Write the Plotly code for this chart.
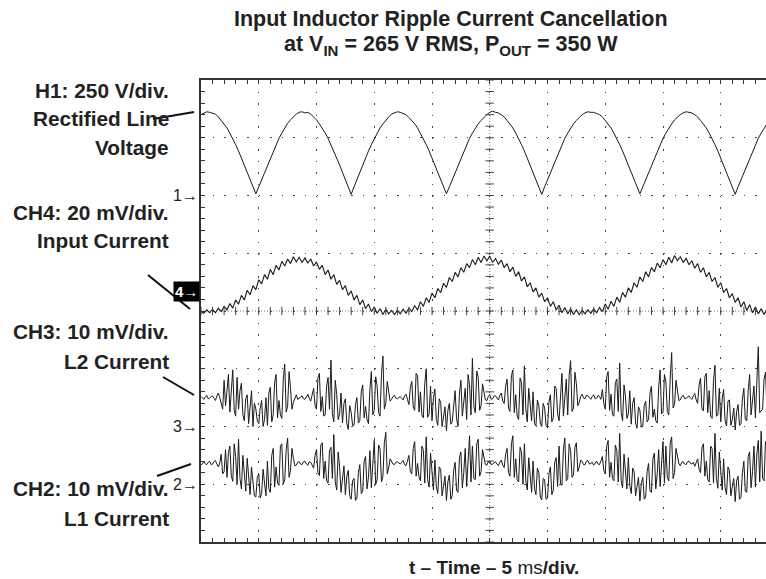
import plotly.graph_objects as go

# ---------------- data (in divisions) -------------
SAMPLE_MS = 0.25        # sample spacing of H1 / CH4 traces, ms (5 ms/div)
SAMPLE_MS_FINE = 0.125  # sample spacing of the ripple traces CH3 / CH2, ms

h1_rectified_line_voltage = [
    7.40, 7.43, 7.45, 7.44, 7.42, 7.41, 7.36, 7.30, 7.25, 7.17, 7.08, 6.99, 6.88, 6.77, 6.65, 6.53, 6.40, 6.27, 6.15, 6.03,
    6.15, 6.27, 6.40, 6.53, 6.65, 6.77, 6.88, 6.99, 7.08, 7.17, 7.25, 7.31, 7.37, 7.41, 7.44, 7.45,
    7.43, 7.44, 7.41, 7.36, 7.31, 7.24, 7.17, 7.08, 6.99, 6.88, 6.77, 6.65, 6.53, 6.40, 6.27, 6.15,
    6.02,
    6.15, 6.28, 6.40, 6.53, 6.65, 6.77, 6.88, 6.98, 7.08, 7.17, 7.24, 7.31, 7.36, 7.41, 7.43, 7.45,
    7.44, 7.42, 7.40, 7.35, 7.30, 7.24, 7.17, 7.08, 6.99, 6.88, 6.77, 6.65, 6.53, 6.40, 6.27, 6.15,
    6.03,
    6.15, 6.27, 6.40, 6.53, 6.65, 6.77, 6.88, 6.99, 7.08, 7.17, 7.24, 7.30, 7.36, 7.40, 7.44, 7.46,
    7.44, 7.43, 7.40, 7.36, 7.30, 7.24, 7.17, 7.08, 6.99, 6.88, 6.77, 6.65, 6.53, 6.40, 6.27, 6.15,
    6.02,
    6.15, 6.27, 6.40, 6.53, 6.65, 6.77, 6.88, 6.99, 7.08, 7.17, 7.24, 7.30, 7.36, 7.40, 7.43, 7.45, 7.44,
    7.44, 7.42, 7.40, 7.36, 7.30, 7.24, 7.17, 7.08, 6.99, 6.88, 6.77, 6.65, 6.53, 6.40, 6.27, 6.15,
    6.03,
    6.15, 6.27, 6.40, 6.53, 6.65, 6.77, 6.88, 6.99, 7.08, 7.17, 7.24, 7.31, 7.36, 7.40, 7.43, 7.45,
    7.44, 7.43, 7.40, 7.36, 7.30, 7.24, 7.17, 7.08, 6.99, 6.88, 6.77, 6.65, 6.53, 6.40, 6.27, 6.15,
    6.02,
    6.15, 6.27, 6.40, 6.53, 6.65, 6.77, 6.88, 6.99, 7.08, 7.17, 7.24,
]

ch4_input_current = [
    3.99, 3.96, 4.02, 3.97, 4.03, 3.97, 4.05, 3.99, 4.08, 4.02, 4.13, 4.05, 4.19, 4.12, 4.27, 4.19, 4.36, 4.28,
    4.44, 4.37, 4.54, 4.47, 4.63, 4.55, 4.72, 4.63, 4.79, 4.71, 4.86, 4.78, 4.90, 4.82, 4.94, 4.85, 4.93,
    4.84, 4.92, 4.83, 4.90, 4.78, 4.85, 4.72, 4.79, 4.63, 4.71, 4.55, 4.63, 4.46, 4.53, 4.37, 4.44, 4.27, 4.35,
    4.19, 4.27, 4.11, 4.19, 4.04, 4.12, 3.99, 4.07, 3.96, 4.04, 3.94, 4.03, 3.95, 4.01,
    3.94, 4.01, 3.95, 4.03, 3.96, 4.05, 3.99, 4.09, 4.02, 4.16, 4.08, 4.23, 4.15, 4.31, 4.23, 4.39, 4.32, 4.48,
    4.41, 4.58, 4.51, 4.67, 4.59, 4.75, 4.67, 4.82, 4.75, 4.89, 4.80, 4.93, 4.84, 4.95,
    4.87,
    4.95, 4.84, 4.91, 4.81, 4.88, 4.75, 4.82, 4.68, 4.76, 4.60, 4.68, 4.52, 4.59, 4.42, 4.49, 4.33, 4.40, 4.24,
    4.31, 4.16, 4.23, 4.08, 4.16, 4.02, 4.10, 3.97, 4.06, 3.95, 4.04, 3.94, 4.02, 3.94, 4.01,
    3.95, 4.02, 3.96, 4.04, 3.97, 4.06, 3.99, 4.12, 4.03, 4.17, 4.08, 4.24, 4.15, 4.32, 4.24, 4.40, 4.32, 4.49,
    4.41, 4.59, 4.51, 4.68, 4.59, 4.75, 4.68, 4.83, 4.75, 4.89, 4.80, 4.93, 4.83, 4.96,
    4.87,
    4.94, 4.84, 4.91, 4.80, 4.87, 4.74, 4.82, 4.67, 4.75, 4.59, 4.67, 4.51, 4.58, 4.41, 4.49, 4.32, 4.39, 4.23,
    4.30, 4.15, 4.23, 4.07, 4.16, 4.01, 4.11, 3.97, 4.07, 3.95, 4.04, 3.94, 4.03,
]

ch3_l2_current = [
    2.52, 2.50, 2.47, 2.51, 2.54, 2.48, 2.49, 2.52, 2.53, 2.49, 2.45, 2.53, 2.58, 2.50, 2.41, 2.30, 2.80, 2.36, 2.62, 2.90,
    2.25, 2.70, 2.98, 2.28, 2.18, 2.85, 2.30, 2.62, 2.75, 2.20, 2.10, 2.48, 2.55, 2.05, 2.38, 2.62, 2.00, 2.40, 2.30, 2.10,
    2.05, 2.32, 2.45, 2.00, 2.12, 2.50, 2.02, 2.58, 2.68, 2.08, 2.20, 2.76, 2.90, 2.15, 2.45, 2.20, 2.14, 2.82, 3.08, 2.25,
    2.35, 2.95, 2.66, 2.30, 2.42, 2.50, 2.55, 2.47, 2.49, 2.52, 2.53, 2.48,
    2.47, 2.51, 2.56, 2.49, 2.44, 2.55, 2.66, 2.36, 2.30, 2.84, 2.92, 2.26, 2.52, 2.18, 2.20, 2.70, 2.85, 2.30, 3.15, 2.22,
    2.08, 2.80, 2.55, 2.12, 2.22, 2.58, 2.06, 2.40, 2.48, 2.05, 1.95, 2.36,
    2.25, 2.02,
    2.02, 2.38, 2.50, 2.06, 2.10, 2.60, 2.72, 2.15, 2.35, 2.12, 2.05, 2.64, 2.95, 2.20, 2.28, 2.86, 2.70, 2.24, 2.18, 2.90,
    3.22, 2.30, 2.40, 2.78, 2.62, 2.44, 2.47, 2.52, 2.54, 2.49, 2.48, 2.51,
    2.52, 2.49, 2.46, 2.53, 2.56, 2.47, 2.38, 2.68, 2.78, 2.34, 2.28, 2.92, 2.88, 2.25, 2.60, 2.20, 2.15, 2.74, 3.00, 2.16,
    2.22, 2.70, 2.10, 2.50, 2.65, 2.12, 2.02, 2.48, 2.42, 2.00, 2.15, 2.34,
    1.93, 2.28,
    2.40, 2.04, 2.08, 2.44, 2.62, 2.14, 2.00, 2.56, 2.80, 2.18, 2.40, 2.66, 2.12, 2.90, 2.72, 2.20, 3.18, 2.34, 2.24, 2.96,
    2.86, 2.28, 2.36, 2.74, 2.60, 2.46, 2.45, 2.52, 2.55, 2.47, 2.48, 2.53,
    2.53, 2.50, 2.46, 2.54, 2.58, 2.44, 2.40, 2.70, 2.82, 2.32, 2.26, 2.88, 2.98, 2.24, 2.55, 2.18, 2.12, 2.84, 2.76, 2.20,
    3.05, 2.30, 2.08, 2.66, 2.35, 2.10, 2.60, 2.05, 2.01, 2.46, 2.36, 2.06,
    2.00, 2.40,
    2.32, 2.02, 1.98, 2.42, 2.55, 2.08, 2.15, 2.70, 2.66, 2.22, 2.10, 2.58, 2.92, 2.18, 2.48, 2.82, 2.20, 2.88, 3.14, 2.26,
    2.32, 2.94, 2.74, 2.36, 2.42, 2.52, 2.56, 2.49, 2.48, 2.54, 2.53, 2.50, 2.47, 2.52,
    2.55, 2.48, 2.49, 2.54, 2.52, 2.47, 2.64, 2.40, 2.30, 2.86, 2.95, 2.28, 2.56, 2.20, 2.18, 2.76, 2.82, 2.26, 3.10, 2.24,
    2.10, 2.72, 2.52, 2.14, 2.22, 2.62, 2.04, 2.40, 2.50, 2.06, 1.97, 2.34,
    2.28, 1.99,
    2.00, 2.36, 2.44, 2.08, 2.12, 2.58, 2.70, 2.16, 2.30, 2.10, 2.06, 2.68, 2.98, 2.22, 2.24, 2.90, 2.78, 2.26, 2.20, 2.84,
    3.28, 2.32, 2.38, 2.80, 2.60, 2.45, 2.46, 2.52, 2.54, 2.48, 2.49, 2.52,
    2.53, 2.50, 2.47, 2.53, 2.57, 2.46, 2.40, 2.72, 2.84, 2.30, 2.27, 2.86, 2.92, 2.24, 2.62, 2.18, 2.14, 2.80, 3.06, 2.18,
    2.20, 2.66, 2.08, 2.48, 2.64, 2.10, 2.01, 2.44, 2.46, 2.02, 2.12, 2.32,
    1.94, 2.26,
    2.38, 2.02, 2.05, 2.48, 2.66, 2.12, 2.10, 2.62, 2.90, 2.20, 2.45, 2.70, 2.15, 2.96, 3.38, 2.24, 2.28, 2.30, 2.82, 2.94,
    2.34,
]

ch2_l1_current = [
    1.33, 1.36, 1.39, 1.35, 1.34, 1.38, 1.40, 1.34, 1.35, 1.39, 1.41, 1.35, 1.30, 1.37, 1.52, 1.18, 1.22, 1.60, 1.12, 1.55,
    1.66, 1.14, 1.05, 1.70, 1.48, 1.00, 1.78, 1.10, 0.92, 1.50, 1.20, 0.88, 1.45, 1.08, 0.82, 1.30, 1.10, 0.80, 0.78, 1.12,
    1.18, 0.76, 0.84, 1.26, 1.02, 0.80, 1.40, 0.92, 0.86, 1.50, 1.62, 0.95, 1.30, 1.02, 0.98, 1.66, 1.70, 1.00, 1.08, 1.60,
    1.80, 1.12, 1.24, 1.62, 1.45, 1.32, 1.33, 1.38, 1.39, 1.35, 1.34, 1.39,
    1.40, 1.35, 1.33, 1.39, 1.38, 1.34, 1.28, 1.50, 1.60, 1.20, 1.15, 1.68, 1.72, 1.10, 1.40, 1.06, 1.02, 1.58, 1.64, 1.10,
    1.86, 1.04, 0.90, 1.56, 1.30, 0.86, 1.05, 1.32, 0.82, 1.14, 1.24, 0.80,
    0.74, 1.06,
    1.10, 0.72, 0.76, 1.20, 1.34, 0.84, 0.88, 1.40, 1.48, 0.92, 1.12, 1.58, 0.94, 1.44, 1.76, 1.00, 1.08, 1.68, 1.62, 1.04,
    1.14, 1.72, 1.90, 1.18, 1.28, 1.44, 1.40, 1.35, 1.34, 1.38, 1.39, 1.36,
    1.35, 1.38, 1.41, 1.34, 1.32, 1.40, 1.50, 1.22, 1.18, 1.62, 1.74, 1.14, 1.36, 1.12, 1.06, 1.66, 1.60, 1.02, 1.82, 1.08,
    0.95, 1.54, 1.20, 0.90, 1.42, 0.96, 0.84, 1.30, 1.26, 0.80, 0.98, 1.14,
    0.72, 1.04,
    1.16, 0.74, 0.80, 1.24, 1.38, 0.90, 0.86, 1.46, 1.56, 0.94, 1.20, 1.62, 0.96, 1.50, 1.84, 1.04, 1.66, 1.10, 1.08, 1.70,
    1.78, 1.14, 1.22, 1.60, 1.46, 1.34, 1.33, 1.39, 1.40, 1.34, 1.35, 1.38,
    1.39, 1.35, 1.32, 1.38, 1.42, 1.33, 1.29, 1.52, 1.62, 1.20, 1.14, 1.70, 1.84, 1.12, 1.44, 1.08, 1.04, 1.64, 1.56, 1.00,
    1.70, 1.06, 0.90, 1.46, 1.18, 0.86, 1.40, 0.92, 0.82, 1.28, 1.20, 0.78,
    0.73, 1.10,
    1.08, 0.74, 0.76, 1.18, 1.30, 0.82, 0.90, 1.38, 1.46, 0.96, 1.66, 1.02, 0.98, 1.60, 1.80, 1.06, 1.10, 1.70, 1.58, 1.12,
    1.16, 1.64, 1.72, 1.22, 1.30, 1.42, 1.39, 1.34, 1.34, 1.40, 1.41, 1.35, 1.36, 1.38,
    1.33, 1.37, 1.40, 1.35, 1.34, 1.40, 1.48, 1.24, 1.18, 1.66, 1.76, 1.12, 1.38, 1.10, 1.06, 1.68, 1.58, 1.04, 1.88, 1.06,
    0.94, 1.52, 1.24, 0.92, 1.46, 0.98, 0.84, 1.28, 1.22, 0.80, 0.96, 1.12,
    0.71, 1.02,
    1.12, 0.74, 0.78, 1.22, 1.36, 0.88, 0.86, 1.44, 1.54, 0.92, 1.18, 1.60, 0.96, 1.48, 1.74, 1.02, 1.66, 1.12, 1.06, 1.72,
    1.82, 1.10, 1.20, 1.62, 1.46, 1.36, 1.32, 1.38, 1.39, 1.35, 1.34, 1.39,
    1.40, 1.36, 1.35, 1.38, 1.31, 1.37, 1.44, 1.26, 1.20, 1.64, 1.70, 1.14, 1.40, 1.08, 1.04, 1.66, 1.62, 1.02, 1.88, 1.10,
    0.93, 1.56, 1.22, 0.90, 1.44, 0.94, 0.82, 1.30, 1.24, 0.80, 0.96, 1.10,
    0.70, 1.06,
    1.14, 0.74, 0.77, 1.20, 1.40, 0.88, 0.86, 1.48, 1.56, 0.94, 1.22, 1.66, 0.95, 1.52, 1.76, 1.04, 1.92, 1.10, 1.06, 1.74,
    1.64,
]

channel_markers = ["1→", "4→", "3→", "2→"]
channel_marker_levels = [6.0, 4.33, 2.0, 1.0]

label_texts = ["H1: 250 V/div.", "Rectified Line", "Voltage",
               "CH4: 20 mV/div.", "Input Current",
               "CH3: 10 mV/div.", "L2 Current",
               "CH2: 10 mV/div.", "L1 Current"]

title_line1 = "Input Inductor Ripple Current Cancellation"
title_line2 = "at V<sub>IN</sub> = 265 V RMS, P<sub>OUT</sub> = 350 W"
x_title = "<b>t – Time – 5 </b>ms<b>/div.</b>"

# ---------------- geometry ----------------
W, H = 766, 579
L, T, B = 201, 80, 37
PW, PH = W - L, H - T - B          # plot area in px
DIV_PX = PH / 8.0                  # one graticule division
X_MAX = PW / DIV_PX * 5.0          # visible time span in ms

def px_x(px):
    return (px - L) / PW

def px_y(py):
    return (H - B - py) / PH

FONT = "Liberation Sans, Arial, Helvetica, sans-serif"
INK = "#1a1a1a"
GRID = "#444444"

t = [i * SAMPLE_MS for i in range(len(h1_rectified_line_voltage))]
t_fine = [i * SAMPLE_MS_FINE for i in range(max(len(ch3_l2_current), len(ch2_l1_current)))]

fig = go.Figure()
for name, xs, ys, w in [("H1", t, h1_rectified_line_voltage, 1.0),
                        ("CH4", t, ch4_input_current, 1.1),
                        ("CH3", t_fine, ch3_l2_current, 1.0),
                        ("CH2", t_fine, ch2_l1_current, 1.0)]:
    fig.add_trace(go.Scatter(x=xs[:len(ys)], y=ys, mode="lines", name=name,
                             line=dict(color=INK, width=w), hoverinfo="skip"))

# centre cross-hair of the graticule (dense dotted lines with small cross ticks)
cx, cy = 25.0, 4.0
ytick_pos = [k * 0.2 for k in range(41)]
xtick_pos = [k * 1.0 for k in range(int(X_MAX) + 1)]
fig.add_trace(go.Scatter(x=[cx] * len(ytick_pos), y=ytick_pos, mode="markers",
                         marker=dict(symbol="line-ew", size=6, line=dict(color=GRID, width=1)),
                         hoverinfo="skip", showlegend=False))
fig.add_trace(go.Scatter(x=xtick_pos, y=[cy] * len(xtick_pos), mode="markers",
                         marker=dict(symbol="line-ns", size=6, line=dict(color=GRID, width=1)),
                         hoverinfo="skip", showlegend=False))
fig.add_shape(type="line", xref="x", yref="y", x0=cx, x1=cx, y0=0, y1=8,
              line=dict(color="#777777", width=1, dash="1px,2px"), layer="below")
fig.add_shape(type="line", xref="x", yref="y", x0=0, x1=X_MAX, y0=cy, y1=cy,
              line=dict(color="#777777", width=1, dash="1px,2px"), layer="below")

dot_dash = "1.5px,%.2fpx" % (DIV_PX / 5 - 1.5)
axis_common = dict(showline=True, linecolor="#333333", linewidth=2,
                   showgrid=True, gridcolor=GRID, gridwidth=1, griddash=dot_dash,
                   ticks="inside", ticklen=4, tickcolor="#333333", tickwidth=1,
                   showticklabels=False, zeroline=False, fixedrange=True)

fig.update_layout(
    width=W, height=H,
    margin=dict(l=L, r=0, t=T, b=B, pad=0),
    paper_bgcolor="white", plot_bgcolor="white",
    showlegend=False,
    font=dict(family=FONT, color="#222222"),
    xaxis=dict(range=[0, X_MAX], dtick=5, tick0=0, mirror="allticks",
               minor=dict(dtick=1, ticks="inside", ticklen=4, tickcolor="#333333", showgrid=False),
               **axis_common),
    yaxis=dict(range=[0, 8], dtick=1, tick0=0, mirror=False,
               minor=dict(dtick=0.2, ticks="inside", ticklen=4, tickcolor="#333333", showgrid=False),
               **axis_common),
)

ann = []
# title
ann.append(dict(text="<b>%s</b>" % title_line1, x=px_x(451), y=px_y(19), xref="paper", yref="paper",
                showarrow=False, xanchor="center", yanchor="middle",
                font=dict(family=FONT, size=21.5, color="#222222")))
ann.append(dict(text="<b>%s</b>" % title_line2, x=px_x(451), y=px_y(45), xref="paper", yref="paper",
                showarrow=False, xanchor="center", yanchor="middle",
                font=dict(family=FONT, size=21.5, color="#222222")))
# x axis title
ann.append(dict(text=x_title, x=px_x(494), y=px_y(567), xref="paper", yref="paper",
                showarrow=False, xanchor="center", yanchor="middle",
                font=dict(family=FONT, size=19, color="#222222")))
# left channel labels
label_y = [90, 119, 147, 212, 240, 331, 361, 488, 518]
for txt, yy in zip(label_texts, label_y):
    ann.append(dict(text="<b>%s</b>" % txt, x=px_x(171), y=px_y(yy), xref="paper", yref="paper",
                    showarrow=False, xanchor="right", yanchor="middle",
                    font=dict(family=FONT, size=20.8, color="#222222")))
# channel ground markers
for mk, lv in zip(channel_markers, channel_marker_levels):
    boxed = mk.startswith("4")
    ann.append(dict(text="<b>%s</b>" % mk if boxed else mk, x=0, y=lv, xref="paper", yref="y",
                    showarrow=False, xanchor="right", yanchor="middle", xshift=-1,
                    bgcolor="black" if boxed else "rgba(0,0,0,0)", borderpad=1,
                    font=dict(family=FONT, size=16 if not boxed else 15,
                              color="white" if boxed else "#222222")))
fig.update_layout(annotations=ann)

# pointer lines from labels to traces
pointers = [((153, 119), (194, 112)),
            ((148, 275), (190, 309)),
            ((163, 377), (194, 395)),
            ((157, 476), (191, 464))]
for (x0, y0), (x1, y1) in pointers:
    fig.add_shape(type="line", xref="paper", yref="paper",
                  x0=px_x(x0), y0=px_y(y0), x1=px_x(x1), y1=px_y(y1),
                  line=dict(color="#111111", width=2))

fig.write_html("out.html")
